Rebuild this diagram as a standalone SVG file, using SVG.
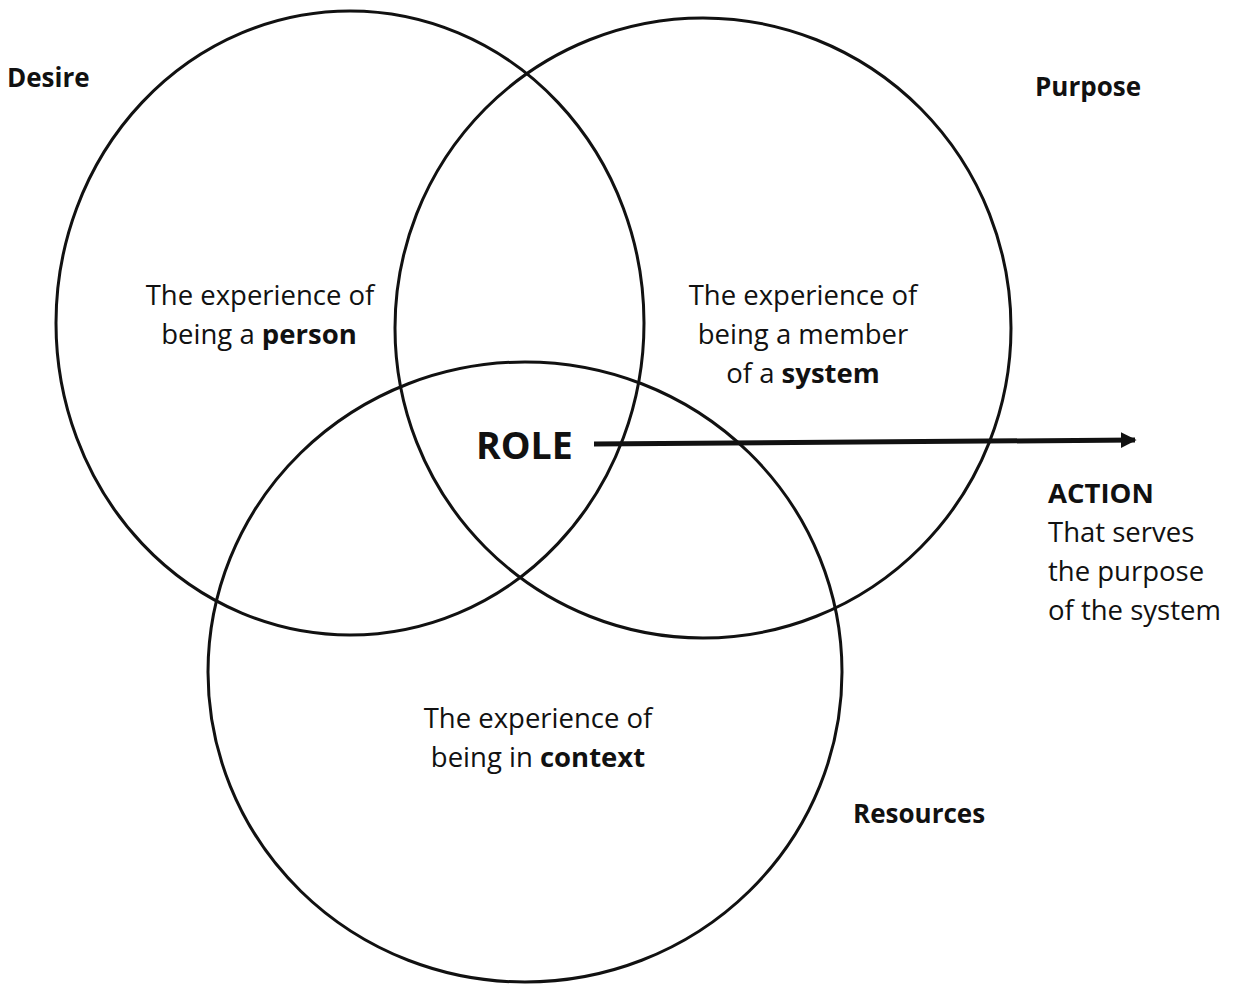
<svg xmlns="http://www.w3.org/2000/svg" width="1233" height="984" viewBox="0 0 1233 984">
  <style>
    .ring { fill: none; stroke: #111; stroke-width: 3; }
    .txt { font-family: "Open Sans", "Liberation Sans", sans-serif; font-size: 27.5px; fill: #111; }
    .c { text-anchor: middle; }
    .b { font-weight: bold; }
    .lbl { font-family: "Open Sans", "Liberation Sans", sans-serif; font-size: 26px; font-weight: bold; fill: #111; }
  </style>
  <defs>
    <marker id="arrowhead" viewBox="0 0 10 10" refX="9" refY="5" markerWidth="3.2" markerHeight="3.2" orient="auto" markerUnits="strokeWidth">
      <path d="M0,0 L10,5 L0,10 z" fill="#111"/>
    </marker>
  </defs>
  <rect width="1233" height="984" fill="#fff"/>

  <g id="person">
    <ellipse class="ring" cx="350" cy="323" rx="294" ry="312"/>
    <text class="txt c" x="260" y="305">The experience of</text>
    <text class="txt c" x="259" y="344">being a <tspan class="b">person</tspan></text>
  </g>

  <g id="system">
    <ellipse class="ring" cx="703" cy="328" rx="308" ry="310"/>
    <text class="txt c" x="803" y="305">The experience of</text>
    <text class="txt c" x="803" y="344">being a member</text>
    <text class="txt c" x="803" y="383">of a <tspan class="b">system</tspan></text>
  </g>

  <g id="context">
    <ellipse class="ring" cx="525" cy="672" rx="317" ry="310"/>
    <text class="txt c" x="538" y="728">The experience of</text>
    <text class="txt c" x="538" y="767">being in <tspan class="b">context</tspan></text>
  </g>

  <g id="desire"><text class="lbl" x="7" y="87">Desire</text></g>
  <g id="purpose"><text class="lbl" x="1035" y="96">Purpose</text></g>
  <g id="resources"><text class="lbl" x="853" y="823">Resources</text></g>

  <g id="role"><text class="txt b" x="476" y="459" style="font-size:37.5px">ROLE</text></g>

  <g id="action">
    <text class="txt b" x="1048" y="503">ACTION</text>
    <text class="txt" x="1048" y="542">That serves</text>
    <text class="txt" x="1048" y="581">the purpose</text>
    <text class="txt" x="1048" y="620">of the system</text>
  </g>

  <g id="connectors">
    <line x1="594" y1="444" x2="1135" y2="440" stroke="#111" stroke-width="5" marker-end="url(#arrowhead)"/>
  </g>
</svg>
